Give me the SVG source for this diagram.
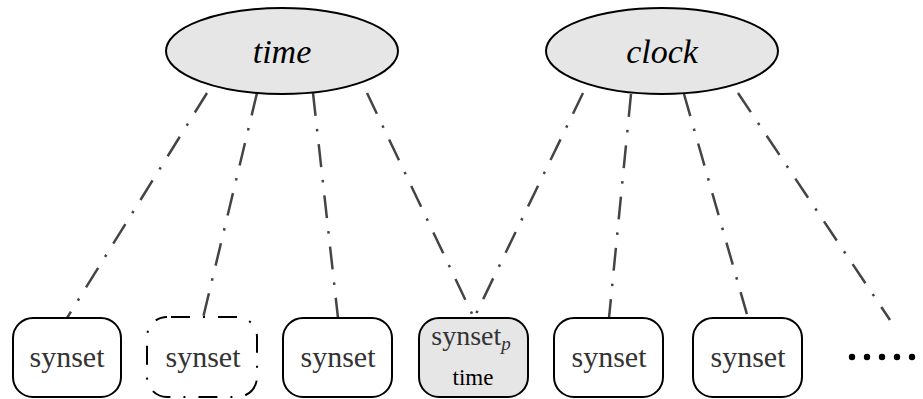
<svg xmlns="http://www.w3.org/2000/svg" width="923" height="399" viewBox="0 0 923 399">
<style>
.ell{fill:#e6e6e6;stroke:#000;stroke-width:2}
.box{fill:#fff;stroke:#000;stroke-width:2}
.gray{fill:#e6e6e6}
.dbox{fill:#fff;stroke:#000;stroke-width:2;stroke-dasharray:19 13 2 13;stroke-dashoffset:-4}
text{font-family:'Liberation Serif','Times New Roman','DejaVu Serif',serif}
.lbl{font-style:italic;font-size:34px;fill:#000;text-anchor:middle}
.syn{font-size:30px;fill:#333;text-anchor:middle}
.conn line{stroke:#444;stroke-width:2.5;fill:none;stroke-dasharray:23 13 2.5 13}
</style>
<g id="connectors" class="conn">
<line x1="207" y1="93" x2="67" y2="318"/>
<line x1="257" y1="93" x2="203" y2="318"/>
<line x1="313" y1="93" x2="338" y2="318"/>
<line x1="367" y1="93" x2="474" y2="318"/>
<line x1="583" y1="93" x2="474" y2="318"/>
<line x1="631" y1="94" x2="609" y2="318"/>
<line x1="684" y1="94" x2="748" y2="318"/>
<line x1="738" y1="93" x2="890" y2="320"/>
</g>
<g id="time">
<ellipse class="ell" cx="282" cy="51" rx="116" ry="43"/>
<text class="lbl" x="282" y="63">time</text>
</g>
<g id="clock">
<ellipse class="ell" cx="662" cy="51" rx="116" ry="43"/>
<text class="lbl" x="662" y="63">clock</text>
</g>
<g id="synset1">
<rect class="box" x="13" y="318" width="108" height="79" rx="20"/>
<text class="syn" x="67" y="367">synset</text>
</g>
<g id="synset2">
<rect class="dbox" x="147" y="317" width="110" height="80" rx="20"/>
<text class="syn" x="203" y="367">synset</text>
</g>
<g id="synset3">
<rect class="box" x="283" y="318" width="109" height="79" rx="20"/>
<text class="syn" x="338" y="367">synset</text>
</g>
<g id="synsetp">
<rect class="box gray" x="419" y="318" width="109" height="79" rx="20"/>
<text class="syn" x="471" y="345" style="font-size:28px">synset<tspan style="font-style:italic;font-size:19px" dy="5">p</tspan></text>
<text class="syn" x="473" y="385" style="font-size:23px;fill:#000">time</text>
</g>
<g id="synset5">
<rect class="box" x="554" y="318" width="109" height="79" rx="20"/>
<text class="syn" x="609" y="367">synset</text>
</g>
<g id="synset6">
<rect class="box" x="693" y="318" width="109" height="79" rx="20"/>
<text class="syn" x="748" y="367">synset</text>
</g>
<g id="ellipsis" fill="#000">
<circle cx="852" cy="357" r="3.2"/>
<circle cx="867" cy="357" r="3.2"/>
<circle cx="882" cy="357" r="3.2"/>
<circle cx="897" cy="357" r="3.2"/>
<circle cx="912" cy="357" r="3.2"/>
</g>
</svg>
